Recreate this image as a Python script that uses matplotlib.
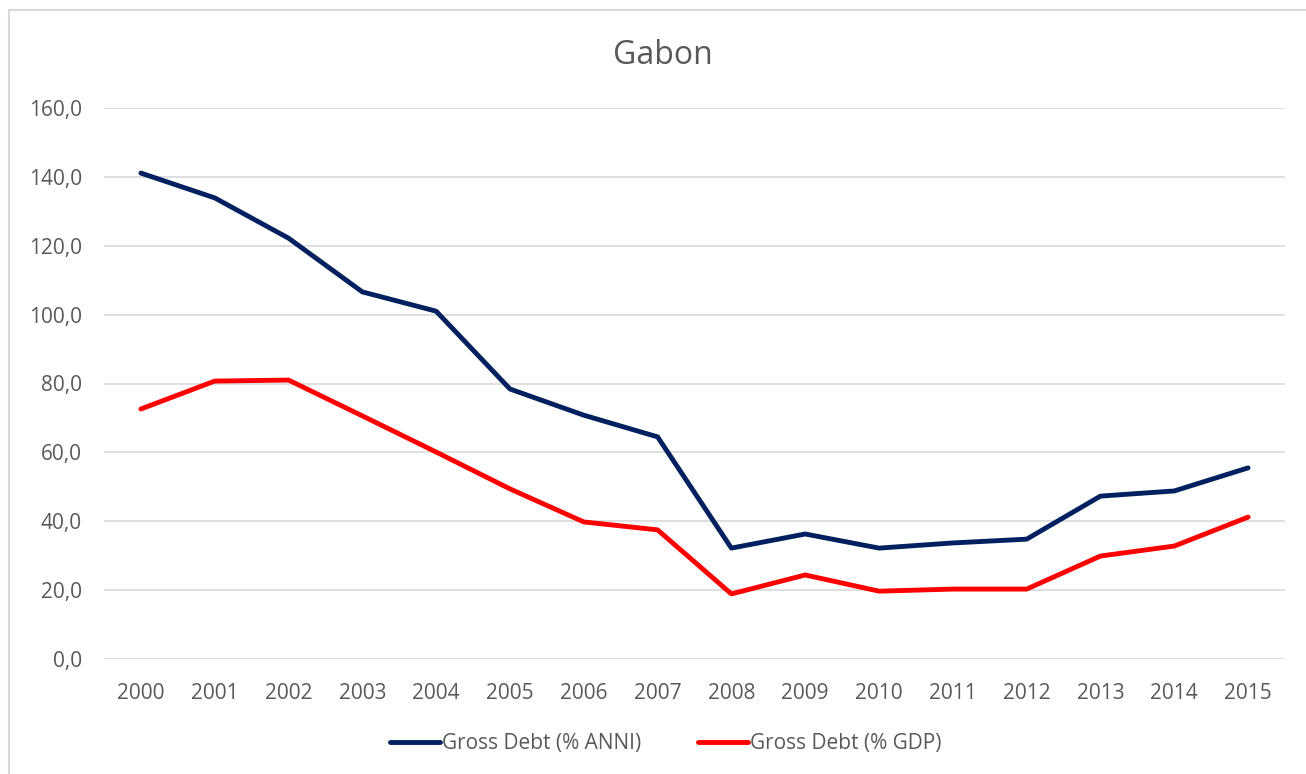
import matplotlib
matplotlib.use("Agg")
import matplotlib.pyplot as plt
from matplotlib.patches import Rectangle

years = [str(y) for y in range(2000, 2016)]
debt_anni = [141.1, 133.9, 122.2, 106.6, 101.0, 78.4, 70.8, 64.5,
             32.2, 36.3, 32.2, 33.7, 34.8, 47.3, 48.8, 55.5]
debt_gdp = [72.6, 80.7, 81.0, 70.6, 60.1, 49.4, 39.8, 37.5,
            18.9, 24.4, 19.7, 20.3, 20.3, 29.9, 32.8, 41.2]
y_ticks = [0, 20, 40, 60, 80, 100, 120, 140, 160]

plt.rcParams['font.family'] = ['Open Sans', 'DejaVu Sans']
W, H = 1306, 774
fig = plt.figure(figsize=(W / 100, H / 100), dpi=100)

# chart frame (extends past the right and bottom edges)
fig.patches.append(Rectangle((9 / W, -0.1), 1.2, (H - 10) / H + 0.1,
                             transform=fig.transFigure, fill=False,
                             edgecolor='#d9d9d9', linewidth=1.5))

ax = fig.add_axes([104 / W, 1 - 659 / H, (1285 - 104) / W, (659 - 108) / H])
x = range(len(years))
ax.plot(x, debt_anni, color='#002060', linewidth=3.5, solid_capstyle='round',
        label='Gross Debt (% ANNI)')
ax.plot(x, debt_gdp, color='#ff0000', linewidth=3.5, solid_capstyle='round',
        label='Gross Debt (% GDP)')

ax.set_xlim(-0.5, len(years) - 0.5)
ax.set_ylim(0, 160)
ax.set_yticks(y_ticks)
ax.set_yticklabels([f"{v:.1f}".replace('.', ',') for v in y_ticks])
ax.set_xticks(list(x))
ax.set_xticklabels(years)
ax.grid(axis='y', color='#d9d9d9', linewidth=1.2)
ax.set_axisbelow(True)
for s in ax.spines.values():
    s.set_visible(False)
ax.tick_params(length=0, labelsize=15, labelcolor='#595959')
ax.tick_params(axis='y', pad=16)
ax.tick_params(axis='x', pad=17)

fig.text(663 / W, 1 - 55 / H, 'Gabon', ha='center', va='center',
         fontsize=23, color='#595959')

leg = fig.legend(loc='center', bbox_to_anchor=(666 / W, 1 - 744 / H), ncol=2,
                 frameon=False, fontsize=15, handlelength=2.4,
                 handletextpad=0.1, columnspacing=2.7)
for t in leg.get_texts():
    t.set_color('#595959')

fig.savefig('out.png', dpi=100)
